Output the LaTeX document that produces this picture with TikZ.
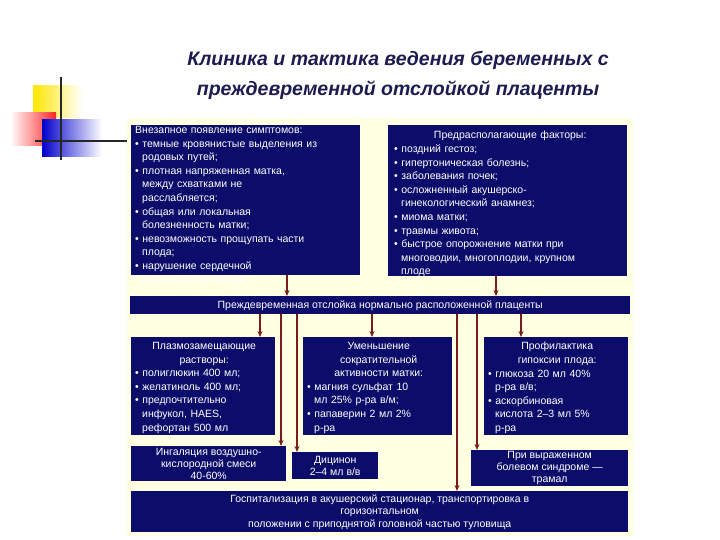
\documentclass[tikz,border=0pt]{standalone}
\usepackage{fontspec}
\setmainfont{Liberation Sans}
\usetikzlibrary{arrows.meta}
\definecolor{navy}{HTML}{0C0C6A}
\definecolor{cream}{HTML}{FFFFE2}
\definecolor{arr}{HTML}{7A1C1C}
\definecolor{ttl}{HTML}{1C1C50}
\tikzset{
  bx/.style={fill=navy,draw=none,inner sep=0pt,anchor=north west},
  tx/.style={text=white,font=\fontsize{10.5}{13.6}\selectfont,inner sep=0pt,anchor=north},
  ar/.style={draw=arr,line width=1.3pt,-{Stealth[length=6pt,width=5pt]}}
}
\begin{document}
\begin{tikzpicture}[x=1pt,y=-1pt]
\useasboundingbox (0,0) rectangle (720,540);
\fill[white] (0,0) rectangle (720,540);
% decoration
\shade[left color=yellow!80!orange,right color=white] (33,86) rectangle (82,118);
\shade[left color=white,right color=red!85] (10,113) rectangle (56,146);
\shade[left color=blue!80!black,right color=white] (42,120) rectangle (102,157);
\draw[line width=1.5pt,black!85] (61,77) -- (61,160);
\draw[line width=1.5pt,black!85] (35,141) -- (128,141);
% title
\node[font=\fontsize{19.5}{30}\selectfont\bfseries\itshape,text=ttl,align=center] (title) at (398,75) {Клиника и тактика ведения беременных с\\преждевременной отслойкой плаценты};
% panel
\fill[cream] (127,118) rectangle (633,536);
% boxes
\node[bx,minimum width=229pt,minimum height=150pt] (a) at (131,125) {};
\node[bx,minimum width=239pt,minimum height=151pt] (b) at (388,125) {};
\node[bx,minimum width=500pt,minimum height=18pt] (m) at (130,296) {};
\node[bx,minimum width=144pt,minimum height=98pt] (p) at (131,337) {};
\node[bx,minimum width=149pt,minimum height=98pt] (u) at (303,337) {};
\node[bx,minimum width=144pt,minimum height=98pt] (f) at (484,337) {};
\node[bx,minimum width=155pt,minimum height=35pt] (i) at (131,446) {};
\node[bx,minimum width=86pt,minimum height=27pt] (d) at (292,452) {};
\node[bx,minimum width=157pt,minimum height=36pt] (r) at (471,450) {};
\node[bx,minimum width=497pt,minimum height=41pt] (g) at (131,491) {};
% texts
\node[tx,text width=222pt,align=left,anchor=north west] (ta) at ([xshift=4pt,yshift=-1pt]a.north west) {Внезапное появление симптомов:\\
• темные кровянистые выделения из\\\ \ родовых путей;\\
• плотная напряженная матка,\\\ \ между схватками не\\\ \ расслабляется;\\
• общая или локальная\\\ \ болезненность матки;\\
• невозможность прощупать части\\\ \ плода;\\
• нарушение сердечной\\\ \ деятельности плода};
\node[tx,text width=232pt,align=left,anchor=north west] (tb) at ([xshift=6pt,yshift=-6pt]b.north west) {\centering Предрасполагающие факторы:\par\raggedright
• поздний гестоз;\\
• гипертоническая болезнь;\\
• заболевания почек;\\
• осложненный акушерско-\\\ \ гинекологический анамнез;\\
• миома матки;\\
• травмы живота;\\
• быстрое опорожнение матки при\\\ \ многоводии, многоплодии, крупном\\\ \ плоде};
\node[tx,anchor=center] (tm) at (m.center) {Преждевременная отслойка нормально расположенной плаценты};
\node[tx,text width=138pt,align=left,anchor=north west] (tp) at ([xshift=4pt,yshift=-5pt]p.north west) {\centering Плазмозамещающие\\растворы:\par\raggedright
• полиглюкин 400 мл;\\
• желатиноль 400 мл;\\
• предпочтительно\\\ \ инфукол, HAES,\\\ \ рефортан 500 мл};
\node[tx,text width=143pt,align=left,anchor=north west] (tu) at ([xshift=4pt,yshift=-5pt]u.north west) {\centering Уменьшение\\сократительной\\активности матки:\par\raggedright
• магния сульфат 10\\\ \ мл 25\% р-ра в/м;\\
• папаверин 2 мл 2\%\\\ \ р-ра};
\node[tx,text width=138pt,align=left,anchor=north west] (tf) at ([xshift=4pt,yshift=-5pt]f.north west) {\centering Профилактика\\гипоксии плода:\par\raggedright
• глюкоза 20 мл 40\%\\\ \ р-ра в/в;\\
• аскорбиновая\\\ \ кислота 2--3 мл 5\%\\\ \ р-ра};
\node[tx,align=center,anchor=center,font=\fontsize{10.5}{12}\selectfont] (ti) at (i.center) {Ингаляция воздушно-\\кислородной смеси\\40-60\%};
\node[tx,align=center,anchor=center,font=\fontsize{10.5}{12}\selectfont] (td) at (d.center) {Дицинон\\2--4 мл в/в};
\node[tx,align=center,anchor=center,font=\fontsize{10.5}{12}\selectfont] (tr) at (r.center) {При выраженном\\болевом синдроме —\\трамал};
\node[tx,align=center,anchor=center,font=\fontsize{10.5}{12.5}\selectfont] (tg) at (g.center) {Госпитализация в акушерский стационар, транспортировка в\\горизонтальном\\положении с приподнятой головной частью туловища};
% arrows
\draw[ar] (a.south -| 287,0) -- (m.north -| 287,0);
\draw[ar] (b.south -| 496,0) -- (m.north -| 496,0);
\draw[ar] (m.south -| 260,0) -- (p.north -| 260,0);
\draw[ar] (m.south -| 372,0) -- (u.north -| 372,0);
\draw[ar] (m.south -| 521,0) -- (f.north -| 521,0);
\draw[ar] (m.south -| 281,0) -- (i.north -| 281,0);
\draw[ar] (m.south -| 297,0) -- (d.north -| 297,0);
\draw[ar] (m.south -| 477,0) -- (r.north -| 477,0);
\draw[ar] (m.south -| 457,0) -- (g.north -| 457,0);
\end{tikzpicture}
\end{document}
